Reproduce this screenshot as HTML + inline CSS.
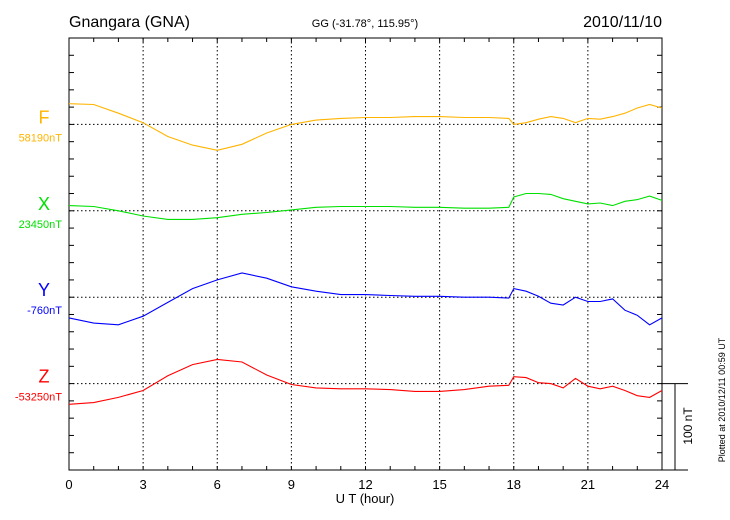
<!DOCTYPE html>
<html><head><meta charset="utf-8"><style>
body{margin:0;background:#fff;}
svg{display:block;font-family:"Liberation Sans",sans-serif;}
</style></head><body>
<svg id="chart" width="730" height="520" viewBox="0 0 730 520" xmlns="http://www.w3.org/2000/svg">
<text x="69" y="27" font-size="16">Gnangara (GNA)</text>
<text x="365" y="27" font-size="11" text-anchor="middle">GG (-31.78°, 115.95°)</text>
<text x="662" y="27" font-size="16" text-anchor="end">2010/11/10</text>
<text x="365" y="503" font-size="13" text-anchor="middle">U T (hour)</text>
<text transform="translate(725,400) rotate(-90)" font-size="9" text-anchor="middle">Plotted at 2010/12/11 00:59 UT</text>
<g id="axes"></g>
<g id="series"></g>
</svg>
<script>
const hours = [0,1,2,3,4,5,6,7,8,9,10,11,12,13,14,15,16,17,17.8,18,18.5,19,19.5,20,20.5,21,21.5,22,22.5,23,23.5,24];
const fValues = [24,23,13,2,-14,-24,-30,-23,-10,0,5,7,8,8,9,9,8,8,7,0,2,6,9,7,2,7,6,9,13,19,23,19];
const xValues = [6,5,0,-6,-10,-10,-8,-4,-2,1,4,5,5,5,4,4,3,3,4,16,20,20,19,14,11,8,9,6,11,13,17,12];
const yValues = [-24,-30,-32,-22,-6,10,20,28,22,12,7,3,3,2,1,1,0,0,-1,10,7,1,-7,-9,0,-5,-5,-2,-15,-21,-32,-24];
const zValues = [-24,-22,-16,-8,9,22,28,25,10,-1,-5,-6,-6,-7,-9,-9,-7,-3,-2,8,7,1,0,-5,6,-3,-6,-3,-8,-14,-16,-8];
const componentNames = ["F","X","Y","Z"];
const baselineLabels = ["58190nT","23450nT","-760nT","-53250nT"];
const xTickLabels = ["0","3","6","9","12","15","18","21","24"];

const NS="http://www.w3.org/2000/svg";
const L=69,R=662,T=38,B=470,U=86.4;
const pxPerNT=U/100;
const colors=["#ffb400","#00e000","#0000ff","#ff0000"];
const baseY=[T+U,T+2*U,T+3*U,T+4*U];
const xs=h=>L+(R-L)*h/24;
const ax=document.getElementById('axes');
const sg=document.getElementById('series');
function mk(tag,attrs,parent){const e=document.createElementNS(NS,tag);for(const k in attrs)e.setAttribute(k,attrs[k]);parent.appendChild(e);return e;}

// frame
let e=mk('rect',{x:L,y:T,width:R-L,height:B-T,fill:'none',stroke:'#000','stroke-width':1},ax);


// vertical grid + x ticks
for(let h=0;h<=24;h++){
  const x=xs(h);
  if(h%3===0 && h>0 && h<24){
    e=mk('line',{x1:x,y1:T,x2:x,y2:B,stroke:'#000','stroke-dasharray':'1.5,2.5','stroke-width':1},ax);
    
    
  }
  e=mk('line',{x1:x,y1:T,x2:x,y2:T+4,stroke:'#000'},ax);
  
  
  e=mk('line',{x1:x,y1:B,x2:x,y2:B-4,stroke:'#000'},ax);
  
  
}
xTickLabels.forEach((t,i)=>{
  e=mk('text',{x:xs(i*3),y:489,'font-size':13,'text-anchor':'middle'},ax);e.textContent=t;
  
  
});
// y minor ticks
for(let i=1;i<25;i++){
  const y=T+i*U/5;
  e=mk('line',{x1:L,y1:y,x2:L+5,y2:y,stroke:'#000'},ax);
  
  
  e=mk('line',{x1:R,y1:y,x2:R-5,y2:y,stroke:'#000'},ax);
  
  
}
// baselines + labels
baseY.forEach((y,i)=>{
  e=mk('line',{x1:L,y1:y,x2:R,y2:y,stroke:'#000','stroke-dasharray':'1.5,2.5'},ax);
  
  
  e=mk('text',{x:44,y:y-1,'font-size':18,'text-anchor':'middle',fill:colors[i]},ax);e.textContent=componentNames[i];
  
  
  e=mk('text',{x:62,y:y+17,'font-size':11,'text-anchor':'end',fill:colors[i]},ax);e.textContent=baselineLabels[i];
  
  
});
// scale bar
e=mk('line',{x1:R,y1:baseY[3],x2:688,y2:baseY[3],stroke:'#000'},ax);


e=mk('line',{x1:675,y1:baseY[3],x2:675,y2:B,stroke:'#000'},ax);


e=mk('line',{x1:R,y1:B,x2:688,y2:B,stroke:'#000'},ax);


e=mk('text',{transform:'translate(692,426) rotate(-90)','font-size':12,'text-anchor':'middle'},ax);e.textContent='100 nT';


// series
[fValues,xValues,yValues,zValues].forEach((vals,i)=>{
  const d=vals.map((v,j)=>(j?'L':'M')+xs(hours[j]).toFixed(1)+','+(baseY[i]-v*pxPerNT).toFixed(1)).join(' ');
  e=mk('path',{d:d,fill:'none',stroke:colors[i],'stroke-width':1.1},sg);
  
  
});
</script>
</body></html>
